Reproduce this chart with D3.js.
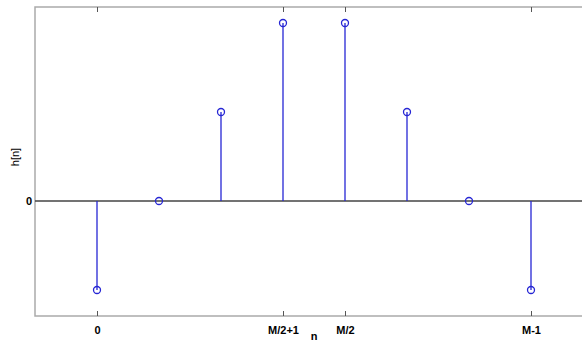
<!DOCTYPE html>
<html>
<head>
<meta charset="utf-8">
<script src="https://cdn.jsdelivr.net/npm/d3@7"></script>
<style>
  body { margin: 0; background: #fff; }
  svg { display: block; }
  text { font-family: Arial, "Liberation Sans", sans-serif; }
</style>
</head>
<body>
<svg id="chart" width="582" height="344"></svg>
<script>
    // stem data
    var nValues = [0, 1, 2, 3, 4, 5, 6, 7];
    var hValues = [-1, 0, 1, 2, 2, 1, 0, -1];
    var xTickValues = [0, 3, 4, 7];
    var xTickLabels = ["0", "M/2+1", "M/2", "M-1"];
    var yTickValues = [0];
    var yTickLabels = ["0"];

    var svg = d3.select("#chart");
    var boxL = 35, boxR = 593, boxT = 7, boxB = 316;

    var x = d3.scaleLinear().domain([-1, 8]).range([boxL, boxR]);
    var y = d3.scaleLinear().domain([-1.292, 2.18]).range([boxB, boxT]);

    var blue = "#2626d4";

    // axes box
    svg.append("rect")
        .attr("x", boxL).attr("y", boxT)
        .attr("width", boxR - boxL).attr("height", boxB - boxT)
        .attr("fill", "none")
        .attr("stroke", "#aaaaaa")
        .attr("stroke-width", 1.5);

    // bottom axis ticks + labels
    var xAxis = d3.axisBottom(x)
        .tickValues(xTickValues)
        .tickSize(-5)
        .tickFormat(function (d, i) { return xTickLabels[i]; });
    var gx = svg.append("g").attr("transform", "translate(0," + boxB + ")").call(xAxis);
    gx.select(".domain").remove();
    gx.selectAll("line").attr("stroke", "#555");
    gx.selectAll("text")
        .attr("y", 10)
        .attr("font-size", 11)
        .attr("font-weight", "bold")
        .attr("fill", "#000");

    // top ticks
    var gt = svg.append("g").attr("transform", "translate(0," + boxT + ")")
        .call(d3.axisTop(x).tickValues(xTickValues).tickSize(-5).tickFormat(""));
    gt.select(".domain").remove();
    gt.selectAll("line").attr("stroke", "#555");

    // left axis label
    var yAxis = d3.axisLeft(y)
        .tickValues(yTickValues)
        .tickSize(0)
        .tickFormat(function (d, i) { return yTickLabels[i]; });
    var gy = svg.append("g").attr("transform", "translate(" + boxL + ",0)").call(yAxis);
    gy.select(".domain").remove();
    gy.selectAll("text")
        .attr("x", -3)
        .attr("font-size", 11)
        .attr("font-weight", "bold")
        .attr("fill", "#000");

    // zero line
    svg.append("line")
        .attr("x1", boxL).attr("x2", boxR)
        .attr("y1", y(0)).attr("y2", y(0))
        .attr("stroke", "#444")
        .attr("stroke-width", 1.5);

    // stems
    svg.selectAll("line.stem")
        .data(nValues)
        .enter()
        .append("line")
        .attr("class", "stem")
        .attr("x1", function (d) { return x(d); })
        .attr("x2", function (d) { return x(d); })
        .attr("y1", y(0))
        .attr("y2", function (d, i) { return y(hValues[i]); })
        .attr("stroke", blue)
        .attr("stroke-width", 1.3);

    svg.selectAll("circle.mark")
        .data(nValues)
        .enter()
        .append("circle")
        .attr("class", "mark")
        .attr("cx", function (d) { return x(d); })
        .attr("cy", function (d, i) { return y(hValues[i]); })
        .attr("r", 3.5)
        .attr("fill", "none")
        .attr("stroke", blue)
        .attr("stroke-width", 1.3);

    // axis titles
    svg.append("text")
        .attr("x", 314).attr("y", 340)
        .attr("text-anchor", "middle")
        .attr("font-size", 11)
        .attr("font-weight", "bold")
        .text("n");

    svg.append("text")
        .attr("transform", "translate(19,157) rotate(-90)")
        .attr("text-anchor", "middle")
        .attr("font-size", 11)
        .text("h[n]");
</script>
</body>
</html>
